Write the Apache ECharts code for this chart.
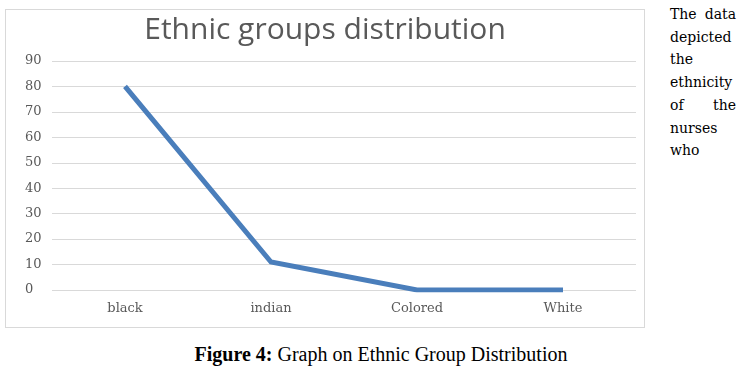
<!DOCTYPE html>
<html>
<head>
<meta charset="utf-8">
<script src="https://cdn.jsdelivr.net/npm/echarts@6/dist/echarts.min.js"></script>
<style>
    body { margin: 0; background: #fff; width: 747px; height: 378px; position: relative; overflow: hidden; }
    #chart { position: absolute; left: 5px; top: 9px; width: 640px; height: 319px; border: 1px solid #d9d9d9; box-sizing: border-box; }
    #side { position: absolute; left: 670px; top: 3px; width: 66px; font-family: "DejaVu Serif", serif; font-size: 14px; line-height: 22.7px; text-align: justify; color: #000; }
    #caption { position: absolute; left: 0; width: 762px; top: 343px; text-align: center; font-family: "Liberation Serif", serif; font-size: 20px; color: #000; }
</style>
</head>
<body>
<div id="chart"></div>
<div id="side">The data depicted the ethnicity of the nurses who</div>
<div id="caption"><b>Figure 4:</b> Graph on Ethnic Group Distribution</div>
<script>
var titleText = 'Ethnic groups distribution';
var categories = ['black', 'indian', 'Colored', 'White'];
var values = [80, 11, 0, 0];
var yMin = 0, yMax = 90, yStep = 10;

var myChart = echarts.init(document.getElementById('chart'));
var option = {
    animation: false,
    title: {
        text: titleText,
        left: 'center',
        top: 0,
        textStyle: {
            fontFamily: 'Open Sans',
            fontWeight: 'normal',
            fontSize: 30,
            color: '#595959'
        }
    },
    grid: {
        left: 46,
        right: 8,
        top: 51,
        bottom: 37
    },
    xAxis: {
        type: 'category',
        data: categories,
        boundaryGap: true,
        axisLine: { show: false },
        axisTick: { show: false },
        axisLabel: {
            margin: 12,
            fontFamily: 'DejaVu Serif',
            fontSize: 13,
            color: '#595959'
        }
    },
    yAxis: {
        type: 'value',
        min: yMin,
        max: yMax,
        interval: yStep,
        axisLine: { show: false },
        axisTick: { show: false },
        axisLabel: {
            align: 'left',
            margin: 27,
            fontFamily: 'DejaVu Serif',
            fontSize: 13,
            color: '#595959'
        },
        splitLine: {
            lineStyle: { color: '#d9d9d9', width: 1 }
        }
    },
    series: [{
        type: 'line',
        data: values,
        symbol: 'none',
        lineStyle: { color: '#4a7ebb', width: 5, cap: 'butt', join: 'miter' }
    }]
};
myChart.setOption(option, true);
</script>
</body>
</html>
